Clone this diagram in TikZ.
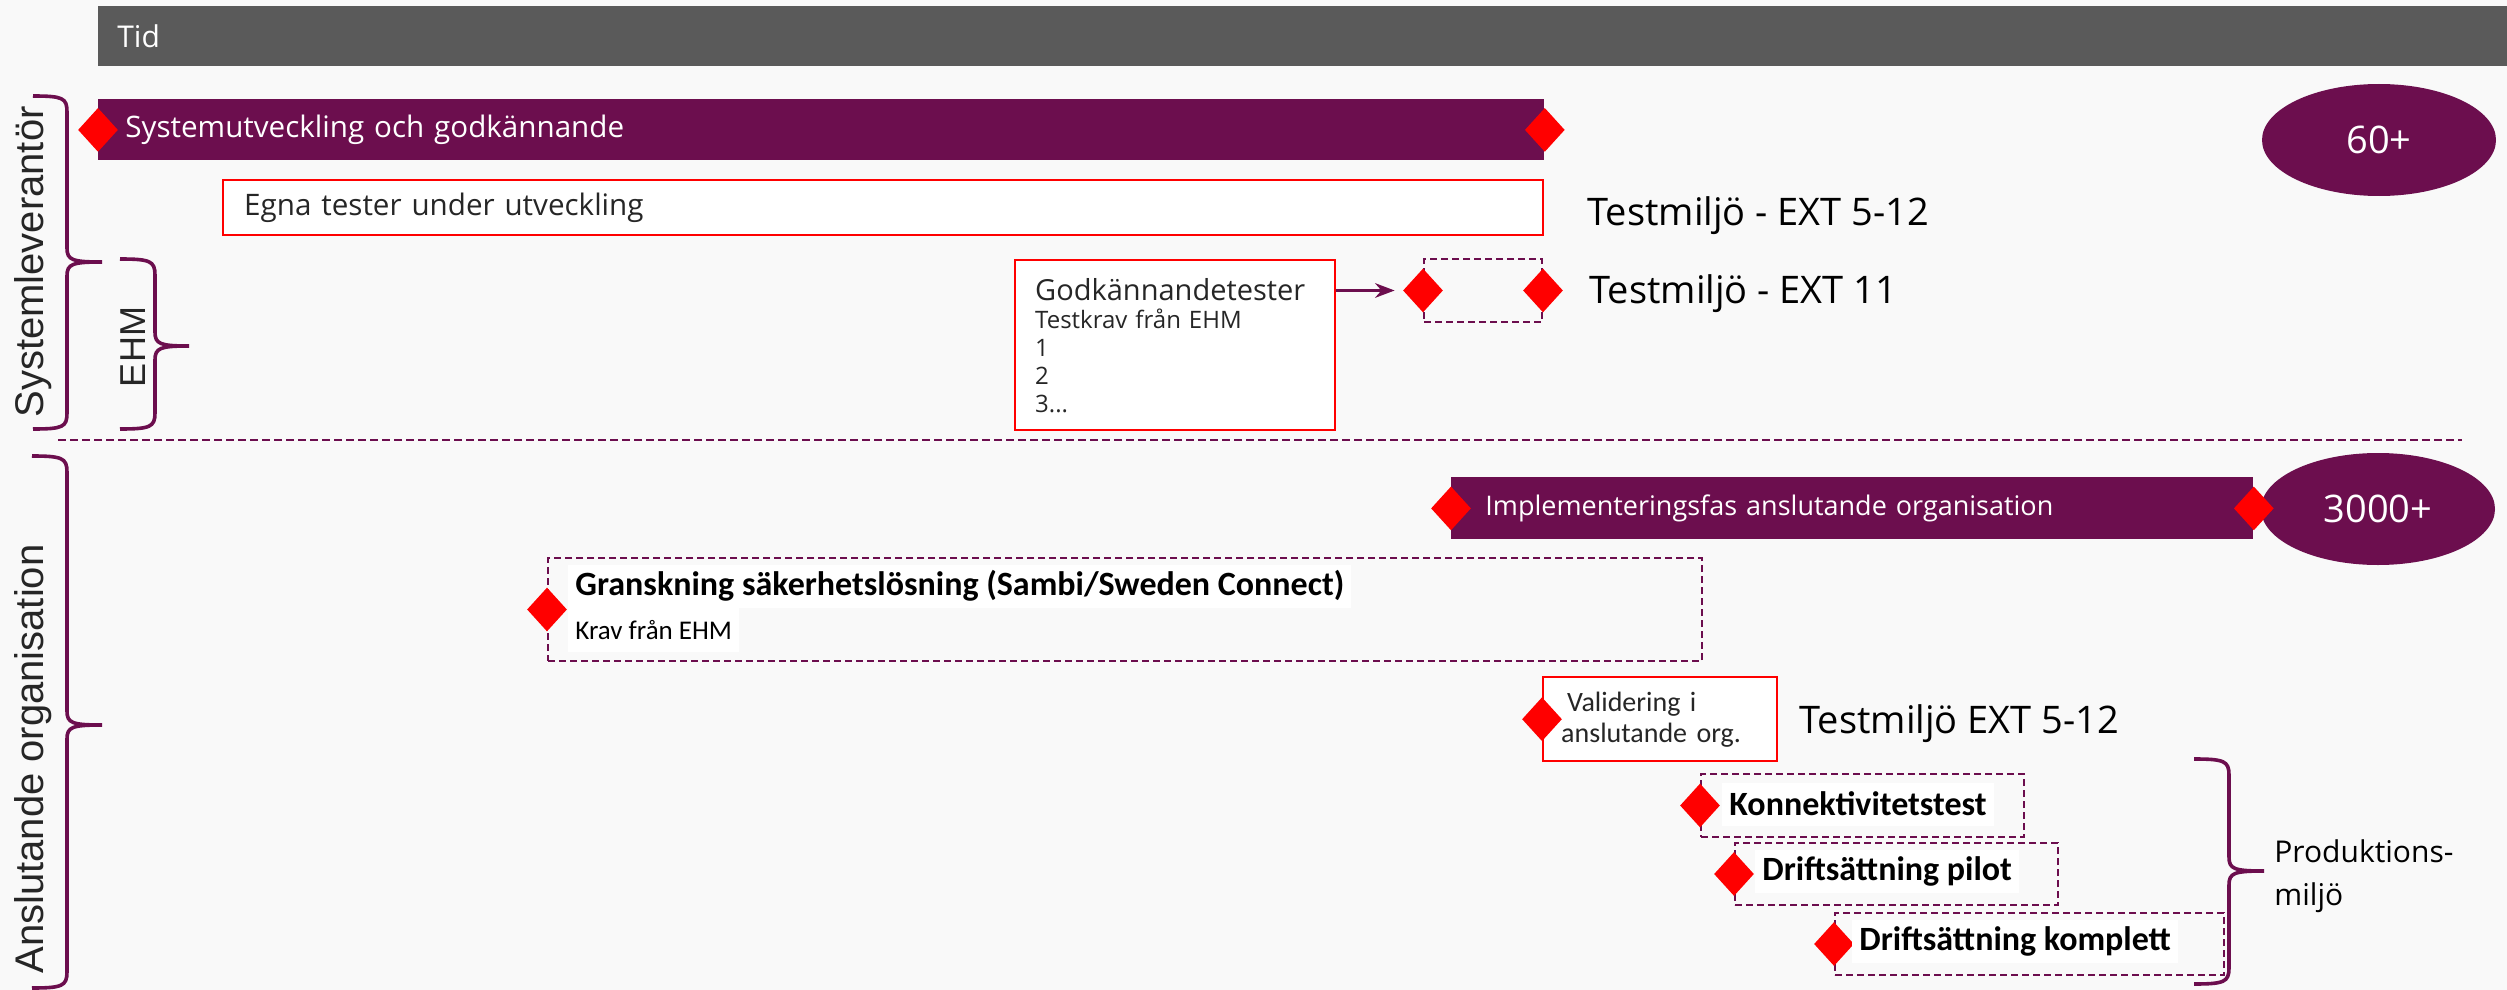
\documentclass[tikz,border=0pt]{standalone}
\usepackage{fontspec}
\setmainfont{Open Sans}
\newfontfamily\calfont{Carlito}
\newfontfamily\arifont{Liberation Sans}
\usetikzlibrary{shapes.geometric,arrows.meta}
\definecolor{plum}{RGB}{108,14,78}
\definecolor{bgray}{RGB}{90,90,90}
\definecolor{paper}{RGB}{249,249,249}
\definecolor{ink}{RGB}{38,38,38}

\begin{document}
\begin{tikzpicture}[x=0.5pt,y=-0.5pt,>=Stealth,bar/.style={rectangle,fill=plum,text=white,anchor=north west,align=left,inner ysep=0pt,font=\fontsize{14.8}{17}\selectfont},red box/.style={rectangle,draw=red,line width=1.2pt,fill=white,text=ink,anchor=north west,align=left},dash box/.style={rectangle,draw=plum,dash pattern=on 3.5pt off 2pt,line width=1pt,anchor=north west,inner sep=0pt},milestone/.style={diamond,fill=red,inner sep=0pt,minimum width=20pt,minimum height=22pt},big label/.style={anchor=base west,inner sep=0pt,font=\fontsize{19}{22}\selectfont},side label/.style={rotate=90,text=ink,inner sep=0pt,font=\arifont\fontsize{20}{24}\selectfont},curly/.style={draw=plum,line width=1.8pt},count/.style={ellipse,fill=plum,text=white,minimum width=117pt,minimum height=56pt,inner sep=0pt,font=\fontsize{19}{22}\selectfont},task/.style={fill=white,anchor=west,inner xsep=3.5pt,inner ysep=0pt,minimum height=21.5pt,font=\calfont\bfseries\fontsize{17}{20}\selectfont}]

            \fill[paper] (0,0) rectangle (2507,990);
            \useasboundingbox (0,0) rectangle (2507,990);

            \node[rectangle,fill=bgray,text=white,anchor=north west,align=left,inner xsep=9.5pt,text width=1185.5pt,minimum height=30pt,font=\fontsize{15}{18}\selectfont] (tid) at (98,6) {Tid};

            \node[bar,inner xsep=13.5pt,text width=696pt,minimum height=30.5pt] (bar1) at (98,99) {Systemutveckling och godkännande};
            \node[milestone] (d1) at (bar1.west) {};
            \node[milestone] (d2) at (bar1.east) {};
            \node[count] (n60) at (2379,140) {60+};

            \node[red box,inner xsep=10.5pt,text width=639pt,minimum height=27.5pt,font=\fontsize{14.8}{17}\selectfont] (egna) at (222,179) {Egna tester under utveckling};
            \node[big label] (lab1) at (1587,225) {Testmiljö - EXT 5-12};

            \node[red box,inner xsep=10pt,text width=140pt,minimum height=85pt,font=\fontsize{12}{14}\selectfont] (godk) at (1014,259) {{\fontsize{14.5}{17}\selectfont Godkännandetester}\\Testkrav från EHM\\1\\2\\3...};
            \node[dash box,minimum width=59pt,minimum height=31.5pt] (ext11) at (1423,258) {};
            \node[milestone] (d3) at (ext11.west) {};
            \node[milestone] (d4) at (ext11.east) {};
            \node[big label] (lab2) at (1589,303) {Testmiljö - EXT 11};
            \path (d3 -| godk.east) edge[->,draw=plum,line width=1.5pt,shorten >=4pt] (d3.west);

            \coordinate (sep1) at (58,440);
            \coordinate (sep2) at (2462,440);
            \draw[plum,line width=1.2pt,dash pattern=on 4pt off 2pt] (sep1) -- (sep2);

            \node[bar,inner xsep=17pt,text width=367pt,minimum height=31pt,font=\fontsize{13.5}{16}\selectfont] (bar2) at (1451,477) {Implementeringsfas anslutande organisation};
            \node[count] (n3000) at (2378,509) {3000+};
            \node[milestone] (d5) at (bar2.west) {};
            \node[milestone] (d6) at (bar2.east) {};

            \node[dash box,minimum width=577pt,minimum height=51.5pt] (gran) at (547,557) {};
            \node[milestone] (d7) at (gran.west) {};
            \node[task] (grantxt) at (568,586) {Granskning säkerhetslösning (Sambi/Sweden Connect)};
            \node[task,minimum height=22pt,font=\calfont\fontsize{13.5}{15}\selectfont] (krav) at (568,630) {Krav från EHM};

            \node[red box,inner xsep=9pt,text width=99pt,minimum height=42pt,font=\calfont\fontsize{14}{15.5}\selectfont] (valid) at (1542,676) {\hspace{3pt}Validering i\\anslutande org.};
            \node[milestone] (d8) at (valid.west) {};
            \node[big label] (lab3) at (1799,733) {Testmiljö EXT 5-12};

            \node[dash box,minimum width=161.5pt,minimum height=31.5pt] (konn) at (1700,773) {};
            \node[milestone] (d9) at (konn.west) {};
            \node[task] (konntxt) at (1722,804) {Konnektivitetstest};

            \node[dash box,minimum width=161.5pt,minimum height=31pt] (pilot) at (1734,842) {};
            \node[milestone] (d10) at (pilot.west) {};
            \node[task] (pilottxt) at (1755,871) {Driftsättning pilot};

            \node[dash box,minimum width=194.5pt,minimum height=31pt] (kompl) at (1834,912) {};
            \node[milestone] (d11) at (kompl.west) {};
            \node[task] (kompltxt) at (1852,941) {Driftsättning komplett};

            \coordinate (s1) at (33,96);
            \coordinate (h1) at (120,259);
            \coordinate (a1) at (32,456);
            \coordinate (p1) at (2194,759);
            \draw[curly] (s1) .. controls (63,96) and (67,98) .. (67,112) -- (67,248) .. controls (67,260) and (72,262) .. (102,262) .. controls (72,262) and (67,264) .. (67,276) -- (67,413) .. controls (67,427) and (63,429) .. (33,429);
            \draw[curly] (h1) .. controls (150,259) and (155,261) .. (155,275) -- (155,332) .. controls (155,344) and (160,346) .. (189,346) .. controls (160,346) and (155,348) .. (155,360) -- (155,413) .. controls (155,427) and (150,429) .. (120,429);
            \draw[curly] (a1) .. controls (62,456) and (67,458) .. (67,472) -- (67,711) .. controls (67,723) and (72,725) .. (102,725) .. controls (72,725) and (67,727) .. (67,739) -- (67,972) .. controls (67,986) and (62,988) .. (32,988);
            \draw[curly] (p1) .. controls (2224,759) and (2229,761) .. (2229,775) -- (2229,857) .. controls (2229,869) and (2234,871) .. (2264,871) .. controls (2234,871) and (2229,873) .. (2229,885) -- (2229,968) .. controls (2229,982) and (2224,984) .. (2194,984);

            \node[side label] (sys) at (33,262) {Systemleverantör};
            \node[side label,font=\arifont\fontsize{18}{22}\selectfont] (ehm) at (133,347) {EHM};
            \node[side label] (ansl) at (33,759) {Anslutande organisation};
            \node[anchor=west,inner sep=0pt,align=left,font=\fontsize{15}{21.5}\selectfont] (prod) at (2274,876) {Produktions-\\miljö};
        \end{tikzpicture}
\end{document}
